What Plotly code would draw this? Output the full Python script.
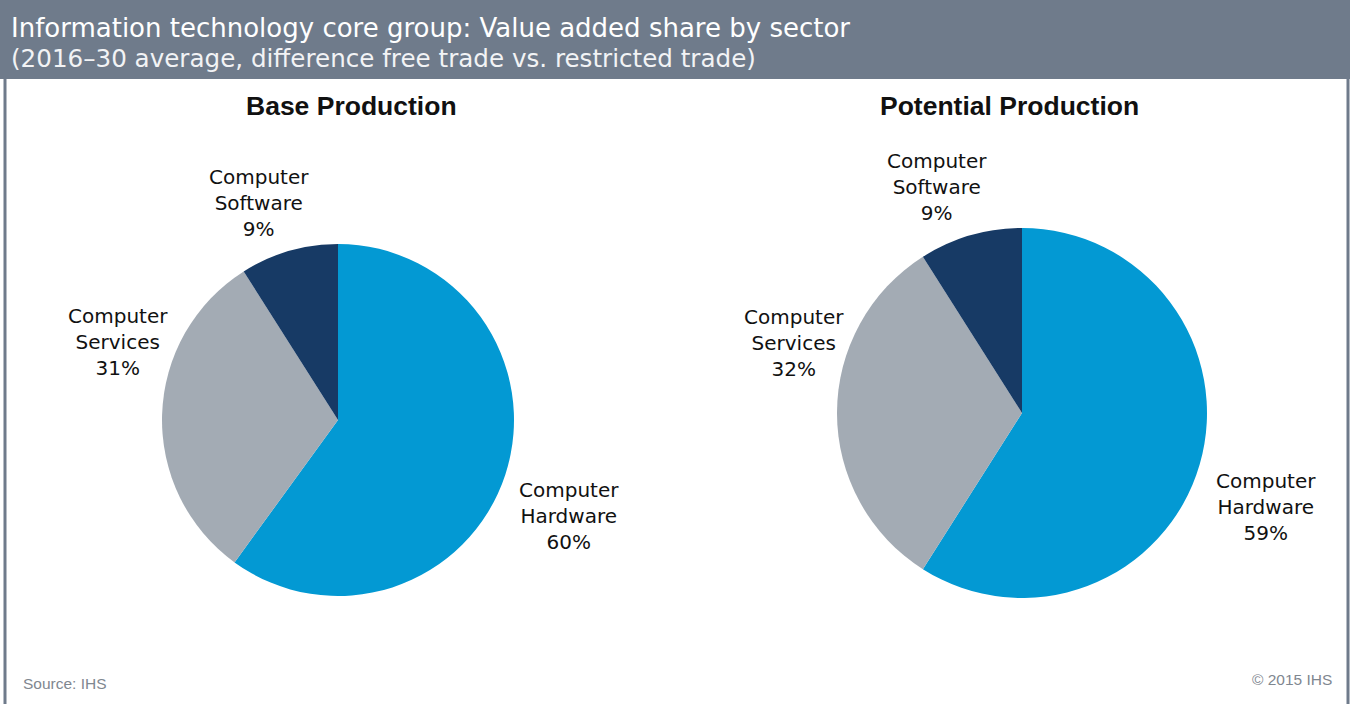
import plotly.graph_objects as go

# Sector shares of information-technology value added (%)
sectors = ["Computer Hardware", "Computer Services", "Computer Software"]
base_shares = [60, 31, 9]
potential_shares = [59, 32, 9]
sector_colors = ["#0399D3", "#A3ABB4", "#173A65"]

panel_titles = ["Base Production", "Potential Production"]
title = "Information technology core group: Value added share by sector"
subtitle = "(2016\u201330 average, difference free trade vs. restricted trade)"

W, H = 1350, 704


def px(x):
    return x / W


def py(y):
    return 1 - y / H


fig = go.Figure()

# Pie domains (pixel boxes converted to paper fractions)
domains = [
    dict(x=[px(162), px(514)], y=[py(596), py(244)]),
    dict(x=[px(837), px(1207)], y=[py(598), py(228)]),
]

for shares, dom in zip([base_shares, potential_shares], domains):
    fig.add_trace(go.Pie(
        labels=sectors,
        values=shares,
        sort=False,
        direction="clockwise",
        rotation=0,
        marker=dict(colors=sector_colors, line=dict(width=0)),
        textinfo="none",
        hoverinfo="label+percent",
        domain=dom,
        showlegend=False,
    ))

label_font = dict(family="DejaVu Sans, sans-serif", size=20, color="#111111")

# Slice label positions (pixel centres) for each panel
label_pos = [
    [(569, 516), (118, 342), (259, 203)],
    [(1266, 507), (794, 343), (937, 187)],
]

annotations = []
for shares, positions in zip([base_shares, potential_shares], label_pos):
    for name, v, (x, y) in zip(sectors, shares, positions):
        first, second = name.split(" ")
        annotations.append(dict(
            x=px(x), y=py(y), xref="paper", yref="paper",
            text=f"{first}<br>{second}<br>{v}%",
            showarrow=False, font=label_font, align="center",
            xanchor="center", yanchor="middle",
        ))

# Panel titles
for t, x in zip(panel_titles, [352, 1009]):
    annotations.append(dict(
        x=px(x), y=py(106), xref="paper", yref="paper",
        text=f"<b>{t}</b>", showarrow=False,
        font=dict(family="Liberation Sans, Arial, sans-serif", size=26.5, color="#111111"),
        xanchor="center", yanchor="middle",
    ))

# Header title and subtitle
annotations.append(dict(
    x=px(9), y=py(28), xref="paper", yref="paper", text=title,
    showarrow=False, xanchor="left", yanchor="middle",
    font=dict(family="DejaVu Sans, sans-serif", size=26, color="#FFFFFF"),
))
annotations.append(dict(
    x=px(9), y=py(59), xref="paper", yref="paper", text=subtitle,
    showarrow=False, xanchor="left", yanchor="middle",
    font=dict(family="DejaVu Sans, sans-serif", size=24.6, color="#F2F3F5"),
))

# Footer
annotations.append(dict(
    x=px(21), y=py(683), xref="paper", yref="paper", text="Source: IHS",
    showarrow=False, xanchor="left", yanchor="middle",
    font=dict(family="Liberation Sans, Arial, sans-serif", size=15.5, color="#7F8790"),
))
annotations.append(dict(
    x=px(1334), y=py(679), xref="paper", yref="paper", text="\u00a9 2015 IHS",
    showarrow=False, xanchor="right", yanchor="middle",
    font=dict(family="Liberation Sans, Arial, sans-serif", size=15.5, color="#7F8790"),
))

shapes = [
    # header band
    dict(type="rect", xref="paper", yref="paper", x0=0, x1=1, y0=py(79), y1=1,
         fillcolor="#6F7B8B", line=dict(width=0), layer="below"),
    # side borders
    dict(type="line", xref="paper", yref="paper", x0=px(5), x1=px(5), y0=0, y1=py(79),
         line=dict(color="#6F7B8B", width=3)),
    dict(type="line", xref="paper", yref="paper", x0=px(1348), x1=px(1348), y0=0, y1=py(79),
         line=dict(color="#6F7B8B", width=3)),
]

fig.update_layout(
    width=W, height=H,
    margin=dict(l=0, r=0, t=0, b=0),
    paper_bgcolor="white", plot_bgcolor="white",
    annotations=annotations, shapes=shapes,
)

fig.write_html("out.html", config={"displayModeBar": False})
